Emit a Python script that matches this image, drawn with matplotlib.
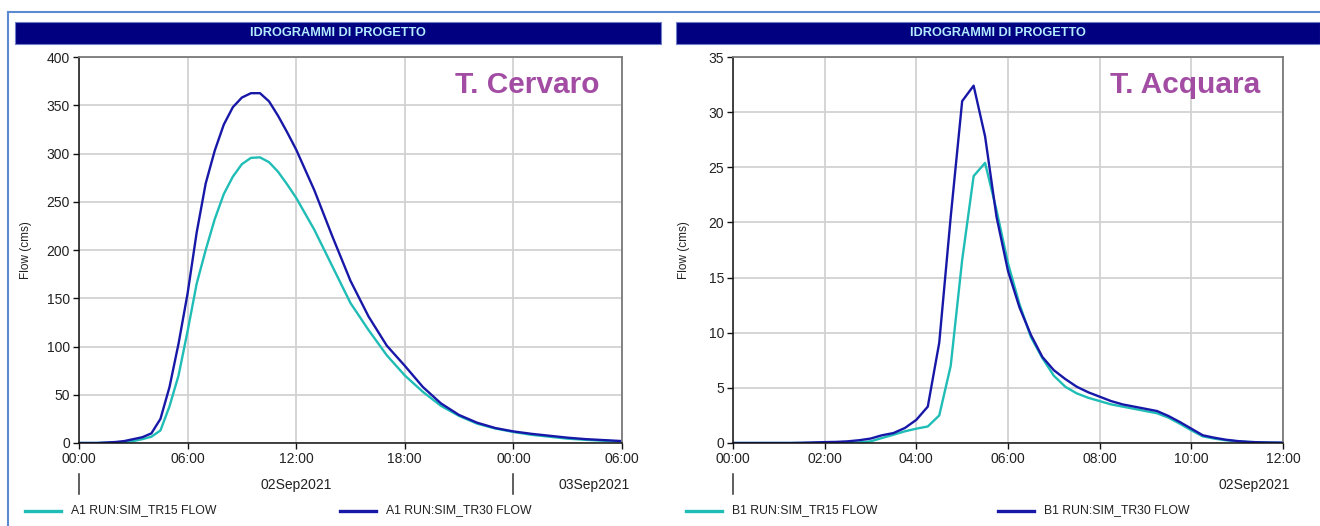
import matplotlib
matplotlib.use("Agg")
import matplotlib.pyplot as plt
from matplotlib.lines import Line2D
from matplotlib.patches import Rectangle
from matplotlib.ticker import FuncFormatter, MultipleLocator

plt.rcParams['font.family'] = ['Liberation Sans', 'DejaVu Sans']

# ---- T. Cervaro (hours since 02Sep2021 00:00) ----
cervaro_hours = [0, 1, 2, 2.5, 3, 3.5, 4, 4.5, 5, 5.5, 6, 6.5, 7, 7.5, 8, 8.5, 9, 9.5,
                 10, 10.5, 11, 11.5, 12, 13, 14, 15, 16, 17, 18, 19, 20, 21, 22, 23,
                 24, 25, 26, 27, 28, 29, 30]
cervaro_tr15 = [0, 0, 0.5, 1, 2, 4, 6.5, 13, 38, 70, 116, 165, 200, 232, 258, 276, 289,
                295.5, 296, 291, 281, 268, 254, 221, 183, 145, 117, 91, 70, 53, 38.5,
                28, 20, 15, 11.4, 8.5, 6.5, 4.5, 3.3, 2.3, 1.5]
cervaro_tr30 = [0, 0, 1, 2, 4, 6, 10, 25, 58, 103, 155, 218, 269, 303, 330, 348, 358,
                362.5, 362.5, 354, 339, 322, 304, 262, 214, 168, 131, 101, 80, 58, 41,
                29, 21, 15.5, 12, 9.5, 7.5, 5.5, 4, 3, 2]

# ---- T. Acquara (15-minute steps, hours since 02Sep2021 00:00) ----
acquara_hours = [0, 0.25, 0.5, 0.75, 1, 1.25, 1.5, 1.75, 2, 2.25, 2.5, 2.75, 3, 3.25,
                 3.5, 3.75, 4, 4.25, 4.5, 4.75, 5, 5.25, 5.5, 5.75, 6, 6.25, 6.5, 6.75,
                 7, 7.25, 7.5, 7.75, 8, 8.25, 8.5, 8.75, 9, 9.25, 9.5, 9.75, 10, 10.25,
                 10.5, 10.75, 11, 11.25, 11.5, 11.75, 12]
acquara_tr15 = [0, 0, 0, 0, 0, 0, 0, 0, 0, 0, 0, 0.05, 0.15, 0.45, 0.75, 1.06, 1.3, 1.5,
                2.5, 7.0, 16.6, 24.2, 25.4, 21.1, 16.3, 12.6, 9.6, 7.7, 6.1, 5.1, 4.5,
                4.1, 3.8, 3.5, 3.3, 3.1, 2.9, 2.7, 2.3, 1.75, 1.15, 0.6, 0.4, 0.25, 0.15,
                0.1, 0.05, 0.03, 0.02]
acquara_tr30 = [0, 0, 0, 0, 0, 0, 0.02, 0.05, 0.08, 0.1, 0.15, 0.25, 0.4, 0.7, 0.9, 1.36,
                2.1, 3.3, 9.1, 20.5, 31.0, 32.4, 27.8, 20.5, 15.6, 12.3, 9.8, 7.8, 6.6,
                5.8, 5.1, 4.6, 4.2, 3.8, 3.5, 3.3, 3.1, 2.9, 2.45, 1.9, 1.3, 0.7, 0.48,
                0.3, 0.18, 0.1, 0.06, 0.04, 0.03]

TITLE = "IDROGRAMMI DI PROGETTO"
YLABEL = "Flow (cms)"

C_TR15 = "#1fbdb6"
C_TR30 = "#1818a8"
NAVY = "#000080"
PURPLE = "#a24ca4"
GRID = "#d2d2d2"
TXT = "#222222"

W, H = 1320, 526
fig = plt.figure(figsize=(W / 100, H / 100), dpi=100)
fig.patch.set_facecolor("white")


def fx(px):
    return px / W


def fy(py):
    return 1 - py / H


def hhmm(v, pos=None):
    return "%02d:00" % (int(round(v)) % 24)


# outer panel frame
fig.add_artist(Line2D([fx(8), fx(8)], [fy(12), fy(526)], color="#5b8ad0", lw=1.5))
fig.add_artist(Line2D([fx(8), fx(1320)], [fy(12), fy(12)], color="#5b8ad0", lw=1.5))

panels = [
    dict(x0=79, x1=622, bar=(15, 661), hours=cervaro_hours, tr15=cervaro_tr15,
         tr30=cervaro_tr30, ymax=400, ystep=50, xmax=30, xstep=6, name="T. Cervaro",
         name_x=455, ylab_x=32, labels=("A1 RUN:SIM_TR15 FLOW", "A1 RUN:SIM_TR30 FLOW"),
         leg_x=(25, 340),
         dates=[(296, "02Sep2021"), (594, "03Sep2021")],
         day_marks=[0, 24]),
    dict(x0=733, x1=1283, bar=(676, 1320), hours=acquara_hours, tr15=acquara_tr15,
         tr30=acquara_tr30, ymax=35, ystep=5, xmax=12, xstep=2, name="T. Acquara",
         name_x=1110, ylab_x=690, labels=("B1 RUN:SIM_TR15 FLOW", "B1 RUN:SIM_TR30 FLOW"),
         leg_x=(686, 998),
         dates=[(1254, "02Sep2021")],
         day_marks=[0]),
]

ytop, ybot = 57, 443

for p in panels:
    # title bar
    b0, b1 = p["bar"]
    fig.add_artist(Rectangle((fx(b0), fy(44)), fx(b1 - b0), (44 - 22) / H,
                             facecolor=NAVY, edgecolor="#7080c8", lw=0.8))
    fig.text(fx((b0 + b1) / 2), fy(33.5), TITLE, ha="center", va="center",
             color="#b4ecff", fontsize=9.2, fontweight="bold")

    ax = fig.add_axes([fx(p["x0"]), fy(ybot), fx(p["x1"] - p["x0"]), (ybot - ytop) / H])
    ax.plot(p["hours"], p["tr15"], color=C_TR15, lw=1.7, label=p["labels"][0])
    ax.plot(p["hours"], p["tr30"], color=C_TR30, lw=1.7, label=p["labels"][1])
    ax.set_xlim(0, p["xmax"])
    ax.set_ylim(0, p["ymax"])
    ax.xaxis.set_major_locator(MultipleLocator(p["xstep"]))
    ax.xaxis.set_major_formatter(FuncFormatter(hhmm))
    ax.yaxis.set_major_locator(MultipleLocator(p["ystep"]))
    ax.grid(True, color=GRID, lw=1.3)
    ax.set_axisbelow(True)
    for s in ("top", "right"):
        ax.spines[s].set_color("#7a7a7a")
        ax.spines[s].set_linewidth(1.3)
    for s in ("left", "bottom"):
        ax.spines[s].set_color("#111111")
        ax.spines[s].set_linewidth(1.1)
    ax.tick_params(axis="both", direction="out", length=4, width=1, color="#111111",
                   labelsize=10, labelcolor=TXT, pad=2.5)
    ax.set_ylabel(YLABEL, fontsize=8.5, color=TXT)
    ax.yaxis.set_label_coords(-(p["x0"] - p["ylab_x"]) / (p["x1"] - p["x0"]), 0.5)

    # river name
    fig.text(fx(p["name_x"]), fy(93.5), p["name"], ha="left", va="baseline",
             color=PURPLE, fontsize=21.5, fontweight="bold")

    # date row below the time axis
    for xd, txt in p["dates"]:
        fig.text(fx(xd), fy(485), txt, ha="center", va="center", fontsize=10, color=TXT)
    for h in p["day_marks"]:
        xpx = p["x0"] + h / p["xmax"] * (p["x1"] - p["x0"])
        fig.add_artist(Line2D([fx(xpx), fx(xpx)], [fy(474), fy(494)],
                              color="#333333", lw=1.1))

    # legend row
    handles, labels = ax.get_legend_handles_labels()
    for (lx, h, lab) in zip(p["leg_x"], handles, labels):
        fig.add_artist(Line2D([fx(lx), fx(lx + 36)], [fy(510.5), fy(510.5)],
                              color=h.get_color(), lw=2.4))
        fig.text(fx(lx + 46), fy(510.5), lab, ha="left", va="center",
                 fontsize=8.8, color=TXT)

fig.savefig("out.png", dpi=100, facecolor="white")
